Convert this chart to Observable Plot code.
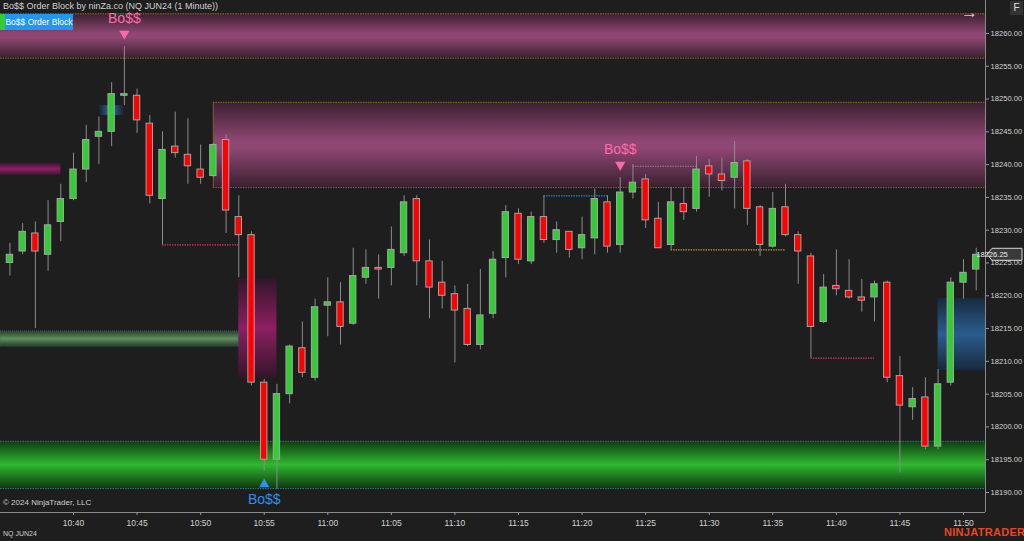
<!DOCTYPE html>
<html><head><meta charset="utf-8">
<script src="https://cdn.jsdelivr.net/npm/d3@7"></script>
<script src="https://cdn.jsdelivr.net/npm/@observablehq/plot@0.6"></script>
<style>
html,body{margin:0;padding:0;background:#1e1e1e;overflow:hidden}
#wrap{position:relative;width:1024px;height:541px;font-family:"Liberation Sans",Arial,sans-serif}
#wrap svg{display:block}
.ov{position:absolute;white-space:nowrap;line-height:1}
</style></head><body><div id="wrap"></div>
<script>
// ---------- DATA ----------
const times = ["10:35","10:36","10:37","10:38","10:39","10:40","10:41","10:42","10:43","10:44",
"10:45","10:46","10:47","10:48","10:49","10:50","10:51","10:52","10:53","10:54",
"10:55","10:56","10:57","10:58","10:59","11:00","11:01","11:02","11:03","11:04",
"11:05","11:06","11:07","11:08","11:09","11:10","11:11","11:12","11:13","11:14",
"11:15","11:16","11:17","11:18","11:19","11:20","11:21","11:22","11:23","11:24",
"11:25","11:26","11:27","11:28","11:29","11:30","11:31","11:32","11:33","11:34",
"11:35","11:36","11:37","11:38","11:39","11:40","11:41","11:42","11:43","11:44",
"11:45","11:46","11:47","11:48","11:49","11:50","11:51"];
const opens = [18225.0,18226.75,18229.5,18226.25,18231.25,18234.75,18239.25,18244.25,18245.0,18250.5,
18250.5,18246.25,18234.75,18242.75,18241.5,18239.25,18238.25,18243.75,18232.0,18229.25,
18206.75,18195.0,18205.0,18212.0,18207.5,18218.5,18219.0,18215.75,18222.75,18224.25,
18224.25,18226.5,18234.75,18225.25,18222.0,18220.25,18218.0,18212.5,18217.25,18225.75,
18232.5,18225.25,18232.0,18228.5,18229.75,18227.25,18228.75,18234.25,18227.75,18235.75,
18237.75,18231.75,18227.75,18234.0,18233.25,18239.75,18238.5,18238.0,18240.5,18233.5,
18227.5,18233.5,18229.25,18226.0,18216.0,18221.5,18220.75,18219.75,18219.75,18222.0,
18207.75,18203.0,18204.5,18197.0,18206.75,18222.0,18224.0];
const highs = [18228.0,18231.0,18231.25,18234.5,18237.0,18241.75,18246.0,18247.25,18252.5,18258.0,
18251.5,18247.5,18245.0,18248.0,18247.0,18243.0,18243.25,18244.5,18235.25,18229.75,
18207.25,18206.5,18212.5,18216.0,18219.5,18222.75,18222.0,18227.25,18227.0,18226.25,
18230.5,18235.25,18235.25,18228.5,18225.25,18221.5,18221.75,18224.0,18226.75,18233.75,
18233.25,18232.75,18235.25,18231.25,18229.75,18232.0,18236.25,18235.25,18238.0,18240.0,
18238.5,18234.25,18236.5,18236.5,18241.25,18240.75,18241.0,18243.5,18240.75,18233.75,
18235.75,18237.0,18229.75,18226.5,18223.25,18227.0,18225.5,18222.5,18222.25,18222.25,
18210.75,18206.0,18207.5,18208.75,18222.75,18225.5,18227.25];
const lows = [18223.0,18226.25,18215.0,18223.75,18228.25,18234.5,18237.25,18240.0,18242.75,18249.0,
18244.75,18234.0,18227.75,18241.0,18237.0,18237.0,18238.0,18229.5,18222.75,18206.25,
18193.25,18190.5,18203.5,18207.5,18207.0,18213.75,18212.5,18215.5,18221.75,18219.5,
18221.5,18226.0,18221.5,18216.5,18218.0,18209.75,18212.25,18211.75,18216.5,18222.75,
18224.75,18224.75,18228.0,18226.5,18225.75,18225.5,18226.25,18226.5,18226.5,18234.75,
18230.25,18227.25,18227.0,18231.5,18232.75,18235.0,18236.0,18233.25,18230.75,18226.0,
18227.25,18229.0,18221.75,18210.5,18215.75,18220.0,18219.5,18217.5,18216.0,18206.75,
18193.0,18201.0,18196.5,18196.5,18206.25,18219.5,18220.75];
const closes = [18226.25,18229.75,18226.75,18230.75,18234.75,18239.25,18243.75,18245.0,18250.75,18250.75,
18246.75,18235.25,18242.25,18241.75,18239.75,18238.0,18243.0,18233.0,18229.25,18206.75,
18195.0,18205.0,18212.25,18208.25,18218.25,18219.0,18215.25,18223.0,18224.25,18224.0,
18227.0,18234.25,18225.25,18221.25,18220.0,18217.75,18212.5,18217.0,18225.5,18232.75,
18225.5,18232.0,18228.5,18230.0,18227.0,18229.25,18234.75,18227.5,18235.75,18237.25,
18231.5,18227.25,18234.25,18232.75,18239.25,18238.5,18237.5,18240.25,18233.25,18227.75,
18233.25,18229.25,18226.75,18215.25,18221.25,18221.0,18219.75,18219.25,18221.75,18207.5,
18203.25,18204.25,18197.0,18206.5,18222.0,18223.5,18226.25];

const xTickLabels = ["10:40","10:45","10:50","10:55","11:00","11:05","11:10","11:15","11:20","11:25","11:30","11:35","11:40","11:45","11:50"];
const yTickValues = [18190,18195,18200,18205,18210,18215,18220,18225,18230,18235,18240,18245,18250,18255,18260];
const lastPrice = 18226.25;

// order-block zones (null = chart edge)
const supplyZones = [{from:null,to:null,low:18256.25,high:18263.0},{from:"10:51",to:null,low:18236.5,high:18249.5}];
const demandZones = [{from:null,to:null,low:18190.6,high:18197.8}];
const blueZones = [{from:"11:48",to:null,low:18208.6,high:18219.6}];
const magentaZones = [{from:"10:53",to:"10:56",low:18207.4,high:18222.6}];
const magentaStrips = [{from:null,to:"10:39",low:18238.35,high:18240.2}];
const oliveStrips = [{from:null,to:"10:53",low:18212.25,high:18214.55}];
const blueStrips = [{from:"10:42",to:"10:44",low:18247.5,high:18249.0}];
// structure levels
const pinkLevels = [{from:"10:47",to:"10:53",price:18227.75},{from:"11:38",to:"11:43",price:18210.5}];
const blueLevels = [{from:"11:17",to:"11:22",price:18235.25}];
const greyLevels = [{from:"11:24",to:"11:29",price:18239.75}];
const orangeLevels = [{from:"11:27",to:"11:36",price:18227.0}];
// break-of-structure signals
const bossDown = ["10:44","11:23"];
const bossUp = ["10:55"];

// ---------- BUILD ----------
const toMin = t => { const [h,m] = t.split(":").map(Number); return (h-10)*60+m; };
const fmtMin = m => `${10+Math.floor(m/60)}:${String(m%60).padStart(2,"0")}`;
const X0 = 34.258, X1 = 111.73;
const Y0 = 18186.95, Y1 = 18263.2;
const candles = times.map((t,i)=>({m:toMin(t),o:opens[i],h:highs[i],l:lows[i],c:closes[i]}));
const up = candles.filter(d=>d.c>=d.o), dn = candles.filter(d=>d.c<d.o);
const res = z => ({x1: z.from==null?X0:toMin(z.from), x2: z.to==null?X1:toMin(z.to), y1:z.low, y2:z.high});
const lv = z => ({x1: toMin(z.from), x2: toMin(z.to), y: z.price});
const byTime = new Map(candles.map(d=>[d.m,d]));
const downSig = bossDown.map(t=>byTime.get(toMin(t)));
const upSig = bossUp.map(t=>byTime.get(toMin(t)));

const gradientDefs = () => {
  const defs = d3.create("svg:defs");
  const lin = (id, vertical, stops) => {
    const g = defs.append("linearGradient").attr("id",id)
      .attr("x1",0).attr("y1",0).attr("x2",vertical?0:1).attr("y2",vertical?1:0);
    stops.forEach(([o,c])=>g.append("stop").attr("offset",o).attr("stop-color",c));
  };
  lin("gPink", true, [[0,"#3a2030"],[0.45,"#8e4673"],[0.55,"#8e4673"],[1,"#3a2030"]]);
  lin("gGreen", true, [[0,"#0e3a10"],[0.5,"#30b830"],[1,"#0e3a10"]]);
  lin("gBlue", true, [[0,"#172a3e"],[0.5,"#2a5d8e"],[1,"#172a3e"]]);
  lin("gMag", true, [[0,"#33152a"],[0.5,"#8c1f60"],[1,"#33152a"]]);
  lin("gMagStrip", true, [[0,"#3a1530"],[0.5,"#8c1f62"],[1,"#3a1530"]]);
  lin("gOlive", true, [[0,"#2a3d2a"],[0.5,"#5e8f5e"],[1,"#2a3d2a"]]);
  lin("gBlueStrip", false, [[0,"#1e1e1e"],[0.3,"#22507a"],[0.7,"#22507a"],[1,"#1e1e1e"]]);
  return defs.node();
};

const priceLabel = (index, scales, values, dims) => {
  const yy = scales.y(lastPrice);
  const x0 = dims.width - dims.marginRight + 2;
  const g = d3.create("svg:g");
  g.append("path")
    .attr("d", `M${x0},${yy} L${x0+5},${yy-6} L${dims.width-2},${yy-6} L${dims.width-2},${yy+6} L${x0+5},${yy+6} Z`)
    .attr("fill","#3a3a3a").attr("stroke","#d8d8d8").attr("stroke-width",1);
  g.append("text").attr("x",x0+5).attr("y",yy).attr("dy","0.35em")
    .attr("fill","#ececec").attr("font-size",7.6).text(d3.format(".2f")(lastPrice));
  return g.node();
};

const R = Plot.rect;
const chart = Plot.plot({
  width:1024, height:541,
  marginLeft:0, marginRight:39, marginTop:12, marginBottom:29,
  style:{background:"#1e1e1e", color:"#d0d0d0", fontSize:"9px", fontFamily:"'Liberation Sans', Arial, sans-serif"},
  x:{type:"linear", domain:[X0,X1], label:null},
  y:{domain:[Y0,Y1], label:null},
  marks:[
    gradientDefs,
    R(supplyZones.map(res), {x1:"x1",x2:"x2",y1:"y1",y2:"y2",fill:"url(#gPink)"}),
    R(demandZones.map(res), {x1:"x1",x2:"x2",y1:"y1",y2:"y2",fill:"url(#gGreen)"}),
    R(blueZones.map(res), {x1:"x1",x2:"x2",y1:"y1",y2:"y2",fill:"url(#gBlue)"}),
    R(magentaZones.map(res), {x1:"x1",x2:"x2",y1:"y1",y2:"y2",fill:"url(#gMag)"}),
    R(magentaStrips.map(res), {x1:"x1",x2:"x2",y1:"y1",y2:"y2",fill:"url(#gMagStrip)"}),
    R(oliveStrips.map(res), {x1:"x1",x2:"x2",y1:"y1",y2:"y2",fill:"url(#gOlive)",stroke:"#2f6f6a",strokeDasharray:"1,1",strokeWidth:1}),
    R(blueStrips.map(res), {x1:"x1",x2:"x2",y1:"y1",y2:"y2",fill:"url(#gBlueStrip)"}),
    // zone borders
    Plot.ruleY(supplyZones.flatMap(z=>{const r=res(z);return [{x1:r.x1,x2:r.x2,y:r.y1},{x1:r.x1,x2:r.x2,y:r.y2}];}), {x1:"x1",x2:"x2",y:"y",stroke:"#8a6a28",strokeDasharray:"1.5,1",strokeWidth:1}),
    Plot.ruleX(supplyZones.filter(z=>z.from!=null).map(res), {x:"x1",y1:"y1",y2:"y2",stroke:"#7a5a2a",strokeWidth:1}),
    Plot.ruleY(demandZones.flatMap(z=>{const r=res(z);return [{x1:r.x1,x2:r.x2,y:r.y1},{x1:r.x1,x2:r.x2,y:r.y2}];}), {x1:"x1",x2:"x2",y:"y",stroke:"#2a7a80",strokeDasharray:"1.5,1",strokeWidth:1}),
    // structure levels
    Plot.ruleY(pinkLevels.map(lv), {x1:"x1",x2:"x2",y:"y",stroke:"#d0307a",strokeDasharray:"1.5,1",strokeWidth:1.2}),
    Plot.ruleY(blueLevels.map(lv), {x1:"x1",x2:"x2",y:"y",stroke:"#2a80d0",strokeDasharray:"1.5,1",strokeWidth:1.2}),
    Plot.ruleY(greyLevels.map(lv), {x1:"x1",x2:"x2",y:"y",stroke:"#8a8a8a",strokeDasharray:"1.5,1",strokeWidth:1.2}),
    Plot.ruleY(orangeLevels.map(lv), {x1:"x1",x2:"x2",y:"y",stroke:"#c89020",strokeDasharray:"1.5,1",strokeWidth:1.2}),
    // candles
    Plot.ruleX(candles, {x:"m", y1:"l", y2:"h", stroke:"#8c8c8c", strokeWidth:1}),
    R(up, {x1:d=>d.m-0.25, x2:d=>d.m+0.25, y1:"o", y2:"c", fill:"#32cd32", stroke:"#a6a6a6", strokeWidth:1}),
    R(dn, {x1:d=>d.m-0.25, x2:d=>d.m+0.25, y1:"o", y2:"c", fill:"#ff0000", stroke:"#a6a6a6", strokeWidth:1}),
    // signals
    Plot.dot(downSig, {x:"m", y:"h", dy:-13, symbol:"triangle", rotate:180, r:3.8, fill:"#ff6aa8", stroke:"none"}),
    Plot.text(downSig, {x:"m", y:"h", dy:-28, text:()=>"Bo$$", fill:"#ff6aa8", fontSize:14}),
    Plot.dot(upSig, {x:"m", y:"l", dy:13, symbol:"triangle", r:3.8, fill:"#2d8ef0", stroke:"none"}),
    Plot.text(upSig, {x:"m", y:"l", dy:28, text:()=>"Bo$$", fill:"#2d8ef0", fontSize:14}),
    // axes
    Plot.axisY({anchor:"right", ticks:yTickValues, tickFormat:d3.format(".2f"), tickSize:3, tickPadding:2, stroke:"#9a9a9a", fill:"#d2d2d2", fontSize:7.6}),
    Plot.axisX({anchor:"bottom", ticks:xTickLabels.map(toMin), tickFormat:fmtMin, tickSize:3, tickPadding:4, stroke:"#9a9a9a", fill:"#d2d2d2", fontSize:8.5}),
    Plot.ruleX([X1], {stroke:"#8a8a8a", insetTop:-12}),
    Plot.ruleY([Y0], {stroke:"#8a8a8a"}),
    priceLabel
  ]
});
const wrap = document.getElementById("wrap");
wrap.appendChild(chart);
const ov = (html, css) => { const d = document.createElement("div"); d.className="ov"; d.innerHTML=html; Object.assign(d.style, css); wrap.appendChild(d); };
ov("Bo$$ Order Block by ninZa.co (NQ JUN24 (1 Minute))", {left:"3px", top:"2px", fontSize:"9px", color:"#d0d0d0"});
ov("", {left:"0px", top:"14px", width:"5px", height:"16px", background:"#33cc33"});
ov("Bo$$ Order Block", {left:"5px", top:"14px", width:"68px", height:"16px", background:"#2196f3", color:"#ffffff", fontSize:"8.5px", lineHeight:"16px", textAlign:"center"});
ov("→", {left:"961px", top:"4px", fontSize:"17px", color:"#cfcfcf"});
ov("F", {left:"1010px", top:"1px", width:"13px", height:"14px", background:"#333333", color:"#dddddd", fontSize:"10px", lineHeight:"14px", textAlign:"center"});
ov("© 2024 NinjaTrader, LLC", {left:"3px", top:"499px", fontSize:"8px", color:"#d0d0d0"});
ov("NQ JUN24", {left:"3px", top:"530px", fontSize:"7px", color:"#d0d0d0"});
ov("NINJATRADER", {left:"944px", top:"527px", fontSize:"11px", fontWeight:"bold", color:"#e8461e", letterSpacing:"0.3px"});
</script>
</body></html>
